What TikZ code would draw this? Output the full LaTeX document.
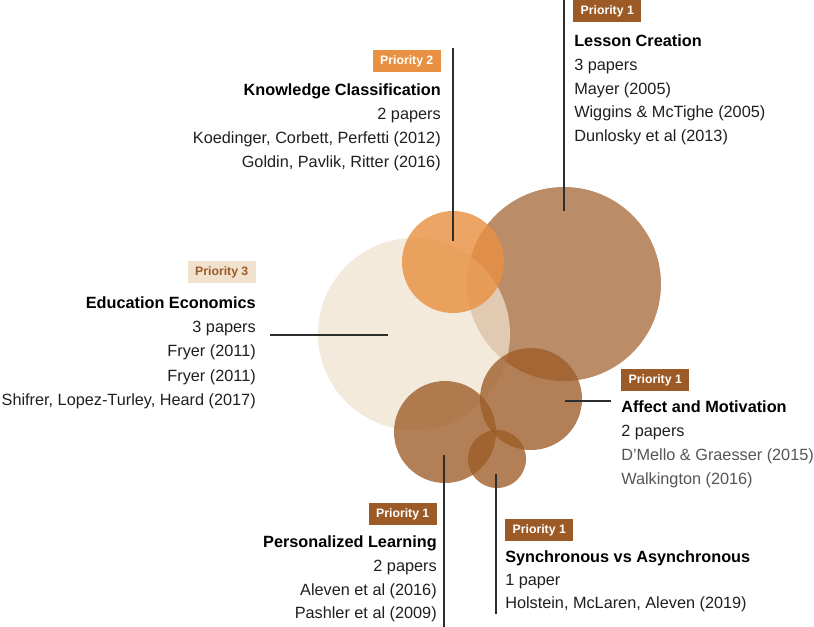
\documentclass[tikz,border=0pt]{standalone}
\usepackage{fontspec}
\setmainfont{Liberation Sans}
\usepackage{tikz}

\definecolor{prioone}{RGB}{156,91,38}
\definecolor{priotwo}{RGB}{232,145,67}
\definecolor{priothree}{RGB}{240,226,206}
\definecolor{pinline}{RGB}{45,45,45}
\definecolor{reftext}{RGB}{85,85,85}

\begin{document}
\begin{tikzpicture}[x=0.75pt,y=0.75pt,yscale=-1,xscale=1,
  badge/.style={fill=#1,inner sep=0pt,minimum width=51pt,minimum height=16.5pt,font=\fontsize{9.2}{10}\selectfont\bfseries,text=white},
  title/.style={inner sep=0pt,font=\fontsize{12.2}{14}\selectfont\bfseries},
  entry/.style={inner sep=0pt,font=\fontsize{12.2}{14}\selectfont,text=black!88},
  pin/.style={draw=pinline,line width=1.5pt}]
\path[use as bounding box] (0,0) rectangle (814,627);

%Bubbles
\node[circle,fill=prioone,fill opacity=0.7,minimum size=145.5pt,inner sep=0pt] (lc) at (564,284) {};
\node[circle,fill=priothree,fill opacity=0.72,minimum size=144pt,inner sep=0pt] (ee) at (414,334) {};
\node[circle,fill=priotwo,fill opacity=0.82,minimum size=76.5pt,inner sep=0pt] (kc) at (453,262) {};
\node[circle,fill=prioone,fill opacity=0.78,minimum size=76.5pt,inner sep=0pt] (am) at (531,399) {};
\node[circle,fill=prioone,fill opacity=0.78,minimum size=76.5pt,inner sep=0pt] (pl) at (445,432) {};
\node[circle,fill=prioone,fill opacity=0.78,minimum size=43.5pt,inner sep=0pt] (sa) at (497,459) {};

%Pin ends
\coordinate (lc-pin) at (564,211);
\coordinate (lc-top) at (564,0);
\coordinate (kc-pin) at (453,241);
\coordinate (kc-top) at (453,48);
\coordinate (ee-pin) at (388,335);
\coordinate (ee-end) at (270,335);
\coordinate (am-pin) at (565,401);
\coordinate (am-end) at (611,401);
\coordinate (pl-pin) at (444,455);
\coordinate (pl-end) at (444,627);
\coordinate (sa-pin) at (496,474);
\coordinate (sa-end) at (496,614);

%Pins
\draw[pin] (lc-pin) -- (lc-top);
\draw[pin] (kc-pin) -- (kc-top);
\draw[pin] (ee-pin) -- (ee-end);
\draw[pin] (am-pin) -- (am-end);
\draw[pin] (pl-pin) -- (pl-end);
\draw[pin] (sa-pin) -- (sa-end);

% Lesson Creation
\node[badge=prioone,anchor=north west] (lc-badge) at (573,0) {Priority 1};
\node[title,anchor=base west] (lc-title) at (574,47) {Lesson Creation};
\node[entry,anchor=base west] (lc-count) at (574,71) {3 papers};
\node[entry,anchor=base west] (lc-ref1) at (574,95) {Mayer (2005)};
\node[entry,anchor=base west] (lc-ref2) at (574,118) {Wiggins \& McTighe (2005)};
\node[entry,anchor=base west] (lc-ref3) at (574,142) {Dunlosky et al (2013)};

% Knowledge Classification
\node[badge=priotwo,anchor=north east] (kc-badge) at (441,50) {Priority 2};
\node[title,anchor=base east] (kc-title) at (441,96) {Knowledge Classification};
\node[entry,anchor=base east] (kc-count) at (441,120) {2 papers};
\node[entry,anchor=base east] (kc-ref1) at (441,144) {Koedinger, Corbett, Perfetti (2012)};
\node[entry,anchor=base east] (kc-ref2) at (441,168) {Goldin, Pavlik, Ritter (2016)};

% Education Economics
\node[badge=priothree,text=prioone,anchor=north east] (ee-badge) at (256,261) {Priority 3};
\node[title,anchor=base east] (ee-title) at (256,309) {Education Economics};
\node[entry,anchor=base east] (ee-count) at (256,333) {3 papers};
\node[entry,anchor=base east] (ee-ref1) at (256,357) {Fryer (2011)};
\node[entry,anchor=base east] (ee-ref2) at (256,381) {Fryer (2011)};
\node[entry,anchor=base east] (ee-ref3) at (256,405) {Shifrer, Lopez-Turley, Heard (2017)};

% Affect and Motivation
\node[badge=prioone,anchor=north west] (am-badge) at (621,369) {Priority 1};
\node[title,anchor=base west] (am-title) at (621,412) {Affect and Motivation};
\node[entry,anchor=base west] (am-count) at (621,436) {2 papers};
\node[entry,text=reftext,anchor=base west] (am-ref1) at (621,460) {D'Mello \& Graesser (2015)};
\node[entry,text=reftext,anchor=base west] (am-ref2) at (621,484) {Walkington (2016)};

% Personalized Learning
\node[badge=prioone,anchor=north east] (pl-badge) at (437,503) {Priority 1};
\node[title,anchor=base east] (pl-title) at (437,547) {Personalized Learning};
\node[entry,anchor=base east] (pl-count) at (437,571) {2 papers};
\node[entry,anchor=base east] (pl-ref1) at (437,595) {Aleven et al (2016)};
\node[entry,anchor=base east] (pl-ref2) at (437,618) {Pashler et al (2009)};

% Synchronous vs Asynchronous
\node[badge=prioone,anchor=north west] (sa-badge) at (505,519) {Priority 1};
\node[title,anchor=base west] (sa-title) at (505,562) {Synchronous vs Asynchronous};
\node[entry,anchor=base west] (sa-count) at (505,585) {1 paper};
\node[entry,anchor=base west] (sa-ref1) at (505,608) {Holstein, McLaren, Aleven (2019)};

\end{tikzpicture}
\end{document}
